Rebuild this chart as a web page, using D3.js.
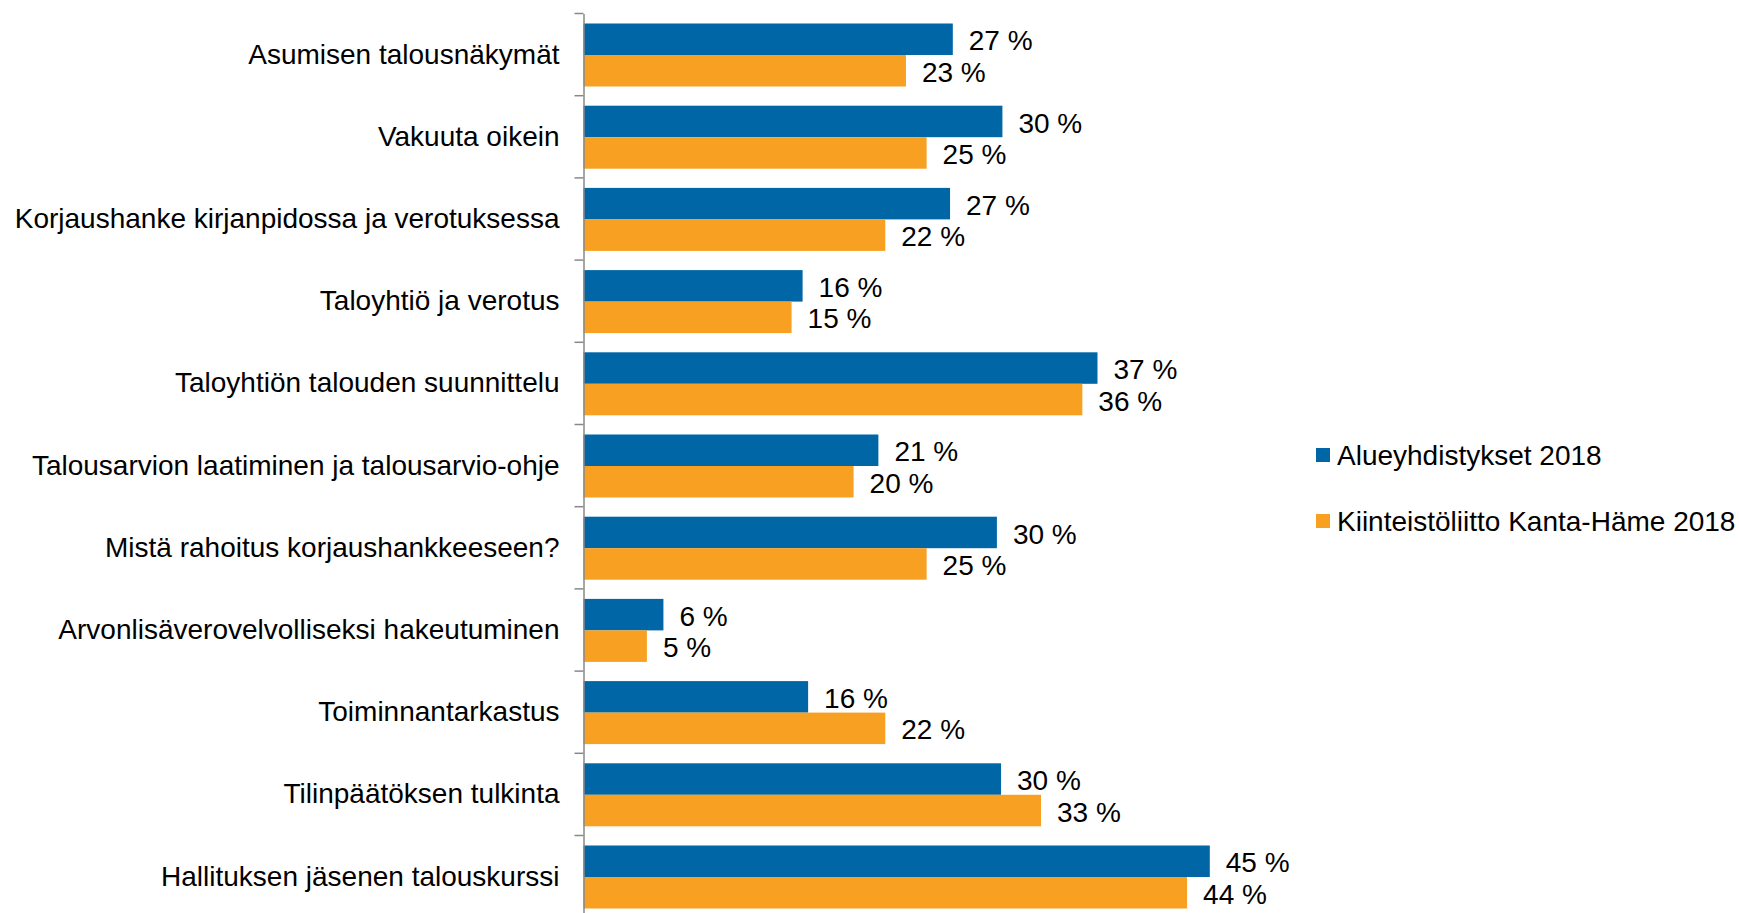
<!DOCTYPE html>
<html><head><meta charset="utf-8">
<script src="https://cdn.jsdelivr.net/npm/d3@7"></script>
<style>
html,body{margin:0;padding:0;background:#fff;overflow:hidden}
text{font-family:"Liberation Sans",Arial,sans-serif;fill:#000}
</style></head>
<body><svg id="c" width="1739" height="913"></svg>
<script>
const categories = [
  "Asumisen talousnäkymät",
  "Vakuuta oikein",
  "Korjaushanke kirjanpidossa ja verotuksessa",
  "Taloyhtiö ja verotus",
  "Taloyhtiön talouden suunnittelu",
  "Talousarvion laatiminen ja talousarvio-ohje",
  "Mistä rahoitus korjaushankkeeseen?",
  "Arvonlisäverovelvolliseksi hakeutuminen",
  "Toiminnantarkastus",
  "Tilinpäätöksen tulkinta",
  "Hallituksen jäsenen talouskurssi"
];
const seriesNames = ["Alueyhdistykset 2018", "Kiinteistöliitto Kanta-Häme 2018"];
const alueyhdistykset = [26.8, 30.4, 26.6, 15.9, 37.3, 21.4, 30.0, 5.8, 16.3, 30.3, 45.45];
const kantaHame      = [23.4, 24.9, 21.9, 15.1, 36.2, 19.6, 24.9, 4.6, 21.9, 33.2, 43.8];
const colors = ["#0066A6", "#F8A021"];

const svg = d3.select("#c");
const x0 = 583.5;
const x = d3.scaleLinear().domain([0, 50]).range([x0, x0 + 689]);
const y = d3.scaleBand().domain(categories).range([13.5, 13.5 + 82.2 * 11]).paddingInner(0).paddingOuter(0);
const ySub = d3.scaleBand().domain(seriesNames).range([10, 73]).padding(0);

const data = categories.map((c, i) => ({c, vals: [alueyhdistykset[i], kantaHame[i]]}));

const g = svg.append("g");
const groups = g.selectAll("g.cat").data(data).join("g")
  .attr("transform", d => `translate(0,${y(d.c)})`);

seriesNames.forEach((s, si) => {
  groups.append("rect")
    .attr("x", x(0))
    .attr("y", ySub(s))
    .attr("width", d => x(d.vals[si]) - x(0))
    .attr("height", ySub.bandwidth())
    .attr("fill", colors[si]);
  groups.append("text")
    .attr("x", d => x(d.vals[si]) + 16)
    .attr("y", ySub(s) + ySub.bandwidth() / 2 + 1)
    .attr("dy", "0.36em")
    .attr("font-size", 28)
    .text(d => Math.round(d.vals[si]) + " %");
});

// axis
const axis = d3.axisLeft(y).tickSize(0).tickPadding(24);
const ax = svg.append("g").attr("transform", `translate(${x0},0)`).call(axis);
ax.select(".domain").attr("stroke", "#888").attr("stroke-width", 1.5);
ax.selectAll(".tick text").attr("font-size", 28).attr("fill", "#000")
  .attr("font-family", '"Liberation Sans",Arial,sans-serif');
// band boundary ticks
const bounds = categories.map(c => y(c)).concat([y.range()[1]]);
ax.selectAll("line.bt").data(bounds).join("line").attr("class", "bt")
  .attr("x1", -9).attr("x2", 0).attr("y1", d => d).attr("y2", d => d)
  .attr("stroke", "#888").attr("stroke-width", 1.5);

// legend
const lg = svg.append("g").attr("transform", "translate(1316,0)");
const ly = [455, 521];
seriesNames.forEach((s, i) => {
  lg.append("rect").attr("x", 0).attr("y", ly[i] - 7).attr("width", 14).attr("height", 14).attr("fill", colors[i]);
  lg.append("text").attr("x", 21).attr("y", ly[i]).attr("dy", "0.36em").attr("font-size", 28).text(s);
});
</script></body></html>
